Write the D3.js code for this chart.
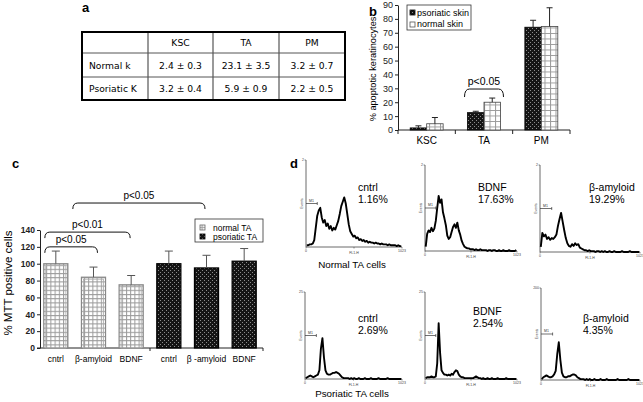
<!DOCTYPE html>
<html>
<head>
<meta charset="utf-8">
<script src="https://cdn.jsdelivr.net/npm/d3@7"></script>
<style>
body { margin: 0; background: #fff; }
svg { display: block; font-family: "Liberation Sans", Arial, sans-serif; }
.plabel { font-weight: bold; font-size: 13px; }
</style>
</head>
<body>
<svg id="fig" width="643" height="402"></svg>
<script>
// ---- panel a : table ----
var tableCols = ["KSC", "TA", "PM"];
var tableRows = ["Normal k", "Psoriatic K"];
var normalMean = [2.4, 23.1, 3.2];
var normalSd = [0.3, 3.5, 0.7];
var psorMean = [3.2, 5.9, 2.2];
var psorSd = [0.4, 0.9, 0.5];

// ---- panel b : apoptotic keratinocytes ----
var bCats = ["KSC", "TA", "PM"];
var bSeries = ["psoriatic skin", "normal skin"];
var bPsor = [1.5, 12.5, 74];
var bPsorErr = [1.5, 1, 5];
var bNorm = [4.5, 20, 74.5];
var bNormErr = [4.5, 3, 13.5];
var bTicks = [0, 10, 20, 30, 40, 50, 60, 70, 80, 90];

// ---- panel c : MTT ----
var cLabels = ["cntrl", "β-amyloid", "BDNF", "cntrl", "β -amyloid", "BDNF"];
var cGroup = ["normal TA", "normal TA", "normal TA", "psoriatic TA", "psoriatic TA", "psoriatic TA"];
var cVals = [100, 84, 75, 100, 95, 103];
var cErr = [15, 12, 11, 15, 15, 15];
var cTicks = [0, 20, 40, 60, 80, 100, 120, 140];

// ---- panel d : flow histograms (counts per 16-channel bin, % of axis height) ----
var hNormCntrl = [2,2,3,3,4,8,22,36,42,45, 34,28,31,24,27,21,24,19,22,20, 25,30,38,47,52,57,50,38,26,18,
  15,12,13,10,11,8,9,7,8,6, 7,5,6,5,5,4,5,4,4,3, 4,3,3,3,2,3,2,2,2,2, 1,2,1,1];
var hNormBdnf = [5,20,24,22,27,23,26,35,50,64, 56,60,45,38,30,18,14,16,22,28, 31,27,33,24,19,12,8,5,4,3,
  3,2,2,2,1,2,1,1,2,1, 1,1,1,0,1,1,0,1,1,0, 0,1,0,0,1,0,0,0,1,0, 0,0,0,1];
var hNormAmy = [6,22,18,20,15,17,14,16,15,17, 20,30,38,45,35,25,16,10,7,6, 9,7,10,8,9,5,4,3,2,2,
  1,2,1,1,1,0,1,1,0,1, 0,1,0,0,1,0,0,1,0,0, 0,0,1,0,0,0,0,1,0,0, 0,0,0,0];
var hPsorCntrl = [1,2,3,4,3,2,3,4,5,10, 35,47,25,10,6,5,5,6,7,7, 8,7,6,4,2,1,1,1,1,0,
  1,0,1,0,0,1,0,0,0,1, 0,0,0,1,0,0,0,0,1,0, 0,0,0,0,1,0,0,0,0,0, 0,0,0,0];
var hPsorBdnf = [1,2,2,2,3,2,2,3,18,64, 30,10,7,5,5,4,5,4,6,5, 8,10,9,5,3,2,2,1,1,1,
  1,1,1,1,2,3,2,1,1,0, 1,0,0,1,0,0,1,0,0,0, 1,0,0,0,0,0,1,0,0,0, 0,0,0,0];
var hPsorAmy = [1,3,4,5,4,3,3,4,6,10, 28,41,22,8,4,3,3,4,4,5, 6,6,5,3,2,1,1,1,0,1,
  0,1,0,0,1,0,0,0,1,0, 0,0,1,0,0,0,0,0,0,1, 0,0,0,0,0,0,1,0,0,0, 0,0,0,0];
var histNames = ["cntrl", "BDNF", "β-amyloid", "cntrl", "BDNF", "β-amyloid"];
var histPct = ["1.16%", "17.63%", "19.29%", "2.69%", "2.54%", "4.35%"];
var histTopLbl = ["2", "2", "2", "25", "25", "200"];
var histData = [hNormCntrl, hNormBdnf, hNormAmy, hPsorCntrl, hPsorBdnf, hPsorAmy];

var svg = d3.select("#fig");
var defs = svg.append("defs");

// fill patterns
var dk = defs.append("pattern").attr("id", "dark").attr("patternUnits", "userSpaceOnUse")
    .attr("width", 4).attr("height", 4);
dk.append("rect").attr("width", 4).attr("height", 4).attr("fill", "#151515");
dk.append("rect").attr("x", 0).attr("y", 0).attr("width", 1).attr("height", 1).attr("fill", "#8c8c8c");
dk.append("rect").attr("x", 2).attr("y", 2).attr("width", 1).attr("height", 1).attr("fill", "#8c8c8c");

function gridPattern(id, s) {
    var p = defs.append("pattern").attr("id", id).attr("patternUnits", "userSpaceOnUse")
        .attr("width", s).attr("height", s);
    p.append("rect").attr("width", s).attr("height", s).attr("fill", "#fff");
    p.append("path").attr("d", "M0,0.5H" + s + "M0.5,0V" + s)
        .attr("stroke", "#9a9a9a").attr("stroke-width", 1).attr("fill", "none");
}
gridPattern("gridB", 5.5);
gridPattern("gridC", 4.2);

function bracket(g, xL, xR, yTop, drop) {
    var r = 5;
    g.append("path")
        .attr("d", "M" + xL + "," + (yTop + drop) + "Q" + xL + "," + yTop + " " + (xL + r) + "," + yTop +
            "L" + (xR - r) + "," + yTop + "Q" + xR + "," + yTop + " " + xR + "," + (yTop + drop))
        .attr("fill", "none").attr("stroke", "#111").attr("stroke-width", 1);
}

// ================= panel a =================
var ga = svg.append("g").style("font-family", "'DejaVu Sans', Verdana, sans-serif");
svg.append("text").attr("class", "plabel").attr("x", 82).attr("y", 12).text("a");
var colX = [82, 148, 213, 279, 345];
var rowY = [32, 53, 77, 100];
colX.slice(1, -1).forEach(function(x) {
    ga.append("line").attr("x1", x).attr("x2", x).attr("y1", rowY[0]).attr("y2", rowY[3])
        .attr("stroke", "#555").attr("stroke-width", 1.2);
});
rowY.slice(1, -1).forEach(function(y) {
    ga.append("line").attr("x1", colX[0]).attr("x2", colX[4]).attr("y1", y).attr("y2", y)
        .attr("stroke", "#555").attr("stroke-width", 1);
});
ga.append("rect").attr("x", colX[0]).attr("y", rowY[0])
    .attr("width", colX[4] - colX[0]).attr("height", rowY[3] - rowY[0])
    .attr("fill", "none").attr("stroke", "#000").attr("stroke-width", 2);
tableCols.forEach(function(c, i) {
    ga.append("text").attr("x", (colX[i + 1] + colX[i + 2]) / 2).attr("y", 46)
        .attr("text-anchor", "middle").attr("font-size", 9.2).text(c);
});
var tMeans = [normalMean, psorMean], tSds = [normalSd, psorSd];
tableRows.forEach(function(r, ri) {
    var yb = (rowY[ri + 1] + rowY[ri + 2]) / 2 + 3.5;
    ga.append("text").attr("x", colX[0] + 7).attr("y", yb).attr("font-size", 9.2).text(r);
    tableCols.forEach(function(c, ci) {
        ga.append("text").attr("x", (colX[ci + 1] + colX[ci + 2]) / 2).attr("y", yb)
            .attr("text-anchor", "middle").attr("font-size", 9.2)
            .text(tMeans[ri][ci].toFixed(1) + " ± " + tSds[ri][ci].toFixed(1));
    });
});

// ================= panel b =================
var gb = svg.append("g");
svg.append("text").attr("class", "plabel").attr("x", 369).attr("y", 16).attr("font-size", 14).text("b");
var bX = d3.scaleBand().domain(bCats).range([398, 570]);
var bIn = d3.scaleBand().domain(bSeries).range([0, bX.bandwidth()]).paddingOuter(0.74);
var bY = d3.scaleLinear().domain([0, 90]).range([130, 5]);

var bAxis = gb.append("g").attr("transform", "translate(398,0)")
    .call(d3.axisLeft(bY).tickValues(bTicks).tickSize(3).tickSizeOuter(0).tickPadding(2));
bAxis.selectAll("text").attr("font-size", 9).attr("fill", "#222").style("font-family", "'Liberation Sans', Arial");
bAxis.selectAll("path,line").attr("stroke", "#222");

gb.append("line").attr("x1", 398).attr("x2", 570).attr("y1", 130).attr("y2", 130).attr("stroke", "#222");
bCats.concat(["end"]).forEach(function(c) {
    var x = c === "end" ? bX.range()[1] : bX(c);
    gb.append("line").attr("x1", x).attr("x2", x).attr("y1", 130).attr("y2", 134).attr("stroke", "#222");
});
gb.selectAll(".bcat").data(bCats).enter().append("text")
    .attr("x", function(d) { return bX(d) + bX.bandwidth() / 2; }).attr("y", 144)
    .attr("text-anchor", "middle").attr("font-size", 10).text(function(d) { return d; });

var bRows = [];
bCats.forEach(function(c, i) {
    bRows.push({ cat: c, s: bSeries[0], v: bPsor[i], e: bPsorErr[i] });
    bRows.push({ cat: c, s: bSeries[1], v: bNorm[i], e: bNormErr[i] });
});
gb.selectAll(".bbar").data(bRows).enter().append("rect")
    .attr("x", function(d) { return bX(d.cat) + bIn(d.s); })
    .attr("y", function(d) { return bY(d.v); })
    .attr("width", bIn.bandwidth())
    .attr("height", function(d) { return bY(0) - bY(d.v); })
    .attr("fill", function(d) { return d.s === bSeries[0] ? "url(#dark)" : "url(#gridB)"; })
    .attr("stroke", function(d) { return d.s === bSeries[0] ? "#000" : "#444"; })
    .attr("stroke-width", 0.8);
bRows.forEach(function(d) {
    var cx = bX(d.cat) + bIn(d.s) + bIn.bandwidth() / 2;
    gb.append("line").attr("x1", cx).attr("x2", cx).attr("y1", bY(d.v)).attr("y2", bY(d.v + d.e))
        .attr("stroke", "#222").attr("stroke-width", 1);
    gb.append("line").attr("x1", cx - 3).attr("x2", cx + 3).attr("y1", bY(d.v + d.e)).attr("y2", bY(d.v + d.e))
        .attr("stroke", "#222").attr("stroke-width", 1);
});
gb.append("text").attr("transform", "translate(375.5,69) rotate(-90)").attr("text-anchor", "middle")
    .attr("font-size", 9.2).text("% apoptotic keratinocytes");

// legend b
gb.append("rect").attr("x", 407).attr("y", 5).attr("width", 64).attr("height", 25)
    .attr("fill", "#fff").attr("stroke", "#333").attr("stroke-width", 0.8);
bSeries.forEach(function(s, i) {
    gb.append("rect").attr("x", 410).attr("y", 10 + i * 12).attr("width", 5).attr("height", 5)
        .attr("fill", i === 0 ? "url(#dark)" : "#fff").attr("stroke", i === 0 ? "#000" : "#555").attr("stroke-width", 0.8);
    gb.append("text").attr("x", 417).attr("y", 15.5 + i * 11.5).attr("font-size", 9).text(s);
});

// significance b
var taC = bX("TA") + bX.bandwidth() / 2;
bracket(gb, taC - 19.5, taC + 19.5, bY(29.5), 8);
gb.append("text").attr("x", taC).attr("y", bY(29.5) - 4).attr("text-anchor", "middle")
    .attr("font-size", 10.5).text("p<0.05");

// ================= panel c =================
var gc = svg.append("g");
svg.append("text").attr("class", "plabel").attr("x", 12).attr("y", 168).text("c");
var cIdx = d3.range(cVals.length);
var cX = d3.scaleBand().domain(cIdx).range([40, 260]).paddingInner(0.36).paddingOuter(0.1);
var cY = d3.scaleLinear().domain([0, 140]).range([348, 230]);
var cAxis = gc.append("g").attr("transform", "translate(40,0)")
    .call(d3.axisLeft(cY).tickValues(cTicks).tickSize(3).tickSizeOuter(0).tickPadding(2));
cAxis.selectAll("text").attr("font-size", 8.5).attr("font-weight", "bold").attr("fill", "#222")
    .style("font-family", "'Liberation Sans', Arial");
cAxis.selectAll("path,line").attr("stroke", "#222");
gc.append("line").attr("x1", 37).attr("x2", 263).attr("y1", 348).attr("y2", 348).attr("stroke", "#222");
var cMid = (cX(2) + cX.bandwidth() + cX(3)) / 2;
[cMid, 263].forEach(function(x) {
    gc.append("line").attr("x1", x).attr("x2", x).attr("y1", 348).attr("y2", 351).attr("stroke", "#222");
});
function cCen(i) { return cX(i) + cX.bandwidth() / 2; }

gc.selectAll(".cbar").data(cIdx).enter().append("rect")
    .attr("x", function(i) { return cX(i); })
    .attr("y", function(i) { return cY(cVals[i]); })
    .attr("width", cX.bandwidth())
    .attr("height", function(i) { return cY(0) - cY(cVals[i]); })
    .attr("fill", function(i) { return cGroup[i] === "normal TA" ? "url(#gridC)" : "url(#dark)"; })
    .attr("stroke", function(i) { return cGroup[i] === "normal TA" ? "#888" : "#000"; })
    .attr("stroke-width", 1.2);
cIdx.forEach(function(i) {
    if (cGroup[i] === "normal TA") {
        gc.append("rect").attr("x", cX(i) + 2).attr("y", cY(cVals[i]) + 2)
            .attr("width", cX.bandwidth() - 4).attr("height", cY(0) - cY(cVals[i]) - 2)
            .attr("fill", "none").attr("stroke", "#aaa").attr("stroke-width", 0.8);
    }
    var cx = cCen(i);
    gc.append("line").attr("x1", cx).attr("x2", cx).attr("y1", cY(cVals[i])).attr("y2", cY(cVals[i] + cErr[i]))
        .attr("stroke", "#555").attr("stroke-width", 1);
    gc.append("line").attr("x1", cx - 4).attr("x2", cx + 4)
        .attr("y1", cY(cVals[i] + cErr[i])).attr("y2", cY(cVals[i] + cErr[i]))
        .attr("stroke", "#555").attr("stroke-width", 1);
});
gc.selectAll(".clab").data(cIdx).enter().append("text")
    .attr("x", function(i) { return cCen(i); }).attr("y", 362)
    .attr("text-anchor", "middle").attr("font-size", 8.5)
    .text(function(i) { return cLabels[i]; });
gc.append("text").attr("transform", "translate(11.5,283) rotate(-90)").attr("text-anchor", "middle")
    .attr("font-size", 11.5).text("% MTT positive cells");

// legend c
gc.append("rect").attr("x", 195).attr("y", 219).attr("width", 68).attr("height", 23)
    .attr("fill", "#fff").attr("stroke", "#333").attr("stroke-width", 0.8);
["normal TA", "psoriatic TA"].forEach(function(s, i) {
    gc.append("rect").attr("x", 200).attr("y", 225 + i * 9).attr("width", 5).attr("height", 5)
        .attr("fill", i === 0 ? "url(#gridC)" : "url(#dark)").attr("stroke", i === 0 ? "#666" : "#000")
        .attr("stroke-width", 0.8);
    gc.append("text").attr("x", 213).attr("y", 230.5 + i * 9).attr("font-size", 8.5).text(s);
});

// significance c
var sig = [
    { xl: cCen(0) - 11, xr: cCen(1) + 4, v: 120, t: "p<0.05" },
    { xl: cCen(0) - 11, xr: cCen(2) - 1, v: 137.5, t: "p<0.01" },
    { xl: cCen(0) + 17, xr: cCen(4) - 1.5, v: 172, t: "p<0.05" }
];
sig.forEach(function(s) {
    bracket(gc, s.xl, s.xr, cY(s.v), 6);
    gc.append("text").attr("x", (s.xl + s.xr) / 2).attr("y", cY(s.v) - 4)
        .attr("text-anchor", "middle").attr("font-size", 10).text(s.t);
});

// ================= panel d =================
var gd = svg.append("g");
svg.append("text").attr("class", "plabel").attr("x", 290).attr("y", 168).text("d");
var histBoxes = [
    { x0: 306, x1: 402, y0: 160, y1: 247, tx: 358, ty: 191 },
    { x0: 425, x1: 517, y0: 165, y1: 251, tx: 478, ty: 191 },
    { x0: 540, x1: 640, y0: 165, y1: 252, tx: 589, ty: 191 },
    { x0: 305, x1: 402, y0: 292, y1: 379, tx: 358, ty: 322 },
    { x0: 425, x1: 517, y0: 292, y1: 379, tx: 473, ty: 315 },
    { x0: 541, x1: 640, y0: 288, y1: 380, tx: 583, ty: 322 }
];
histData.forEach(function(counts, k) {
    var b = histBoxes[k];
    var g = gd.append("g");
    var hx = d3.scaleLinear().domain([-0.5, counts.length - 0.5]).range([b.x0, b.x1]);
    var hy = d3.scaleLinear().domain([0, 100]).range([b.y1, b.y0]);
    // axes
    g.append("path").attr("d", "M" + b.x0 + "," + b.y0 + "V" + b.y1 + "H" + b.x1)
        .attr("fill", "none").attr("stroke", "#444").attr("stroke-width", 0.8);
    [b.x0, (b.x0 + b.x1) / 2, b.x1].forEach(function(x) {
        g.append("line").attr("x1", x).attr("x2", x).attr("y1", b.y1).attr("y2", b.y1 + 1.5)
            .attr("stroke", "#444").attr("stroke-width", 0.6);
    });
    g.append("line").attr("x1", b.x0 - 1.5).attr("x2", b.x0).attr("y1", b.y0).attr("y2", b.y0)
        .attr("stroke", "#444").attr("stroke-width", 0.6);
    g.append("text").attr("x", b.x0 - 2).attr("y", b.y0 + 1).attr("text-anchor", "end")
        .attr("font-size", 3.5).attr("fill", "#444").text(histTopLbl[k]);
    g.append("text").attr("transform", "translate(" + (b.x0 - 3) + "," + hy(50) + ") rotate(-90)")
        .attr("text-anchor", "middle").attr("font-size", 3.5).attr("fill", "#444").text("Events");
    g.append("text").attr("x", b.x0).attr("y", b.y1 + 5).attr("text-anchor", "middle")
        .attr("font-size", 3.5).attr("fill", "#444").text("0");
    g.append("text").attr("x", (b.x0 + b.x1) / 2).attr("y", b.y1 + 7).attr("text-anchor", "middle")
        .attr("font-size", 3.5).attr("fill", "#444").text("FL1-H");
    g.append("text").attr("x", b.x1).attr("y", b.y1 + 5).attr("text-anchor", "middle")
        .attr("font-size", 3.5).attr("fill", "#444").text("1023");
    // M1 gate
    var gx = hx(7);
    g.append("path").attr("d", "M" + b.x0 + "," + hy(50) + "H" + gx + "M" + gx + "," + (hy(50) - 1.5) + "V" + (hy(50) + 1.5))
        .attr("fill", "none").attr("stroke", "#333").attr("stroke-width", 0.7);
    g.append("text").attr("x", b.x0 + 3).attr("y", hy(50) - 2).attr("font-size", 3.5).attr("fill", "#333").text("M1");
    // histogram trace
    g.append("path").datum(counts)
        .attr("d", d3.line().x(function(d, i) { return hx(i); }).y(function(d) { return hy(d); }))
        .attr("fill", "none").attr("stroke", "#000").attr("stroke-width", 1.9).attr("stroke-linejoin", "round");
    g.append("text").attr("x", b.tx).attr("y", b.ty).attr("font-size", 10.5).text(histNames[k]);
    g.append("text").attr("x", b.tx).attr("y", b.ty + 12).attr("font-size", 10.5).text(histPct[k]);
});
gd.append("text").attr("x", 352).attr("y", 268).attr("text-anchor", "middle").attr("font-size", 9.8).text("Normal TA cells");
gd.append("text").attr("x", 352).attr("y", 397).attr("text-anchor", "middle").attr("font-size", 9.8).text("Psoriatic TA cells");
</script>
</body>
</html>
